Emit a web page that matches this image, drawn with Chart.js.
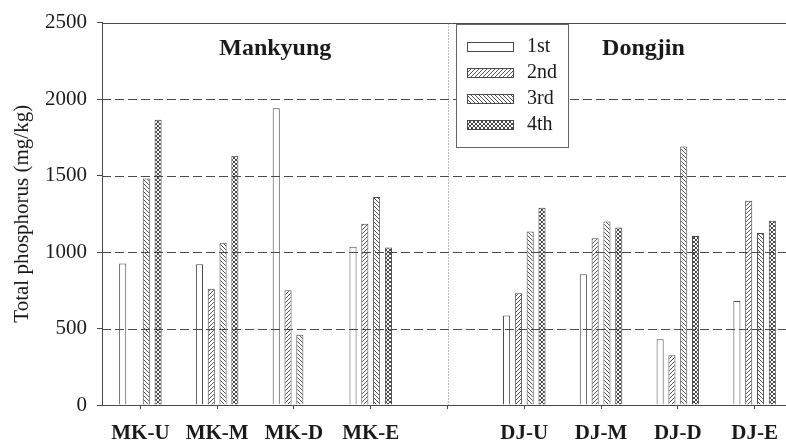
<!DOCTYPE html>
<html>
<head>
<meta charset="utf-8">
<script src="https://cdn.jsdelivr.net/npm/chart.js@4/dist/chart.umd.min.js"></script>
<style>
  html, body { margin: 0; padding: 0; background: #fff; overflow: hidden; width: 786px; height: 446px; }
  canvas { display: block; }
</style>
</head>
<body>
<canvas id="chart" width="800" height="446"></canvas>
<script>
// Sampling sites (the empty slot separates the two rivers)
const categories = ['MK-U', 'MK-M', 'MK-D', 'MK-E', '', 'DJ-U', 'DJ-M', 'DJ-D', 'DJ-E'];
const seriesLabels = ['1st', '2nd', '3rd', '4th'];

// Total phosphorus (mg/kg) per sampling round
const round1 = [925, 920, 1940, 1035, null, 585, 855, 430, 680];
const round2 = [null, 760, 750, 1185, null, 730, 1090, 325, 1335];
const round3 = [1480, 1060, 460, 1360, null, 1135, 1200, 1690, 1125];
const round4 = [1865, 1630, null, 1030, null, 1290, 1160, 1105, 1205];

const yTicks = [0, 500, 1000, 1500, 2000, 2500];
const regionTitles = ['Mankyung', 'Dongjin'];
const dividerCategory = 4;

const SERIF = '"Liberation Serif", "Times New Roman", serif';
const INK = '#1a1a1a';
const LINE = '#4a4a4a';

Chart.defaults.font.family = SERIF;

// Pixel-exact hatch tiles
function hatch(kind) {
  const p = 4;
  const c = document.createElement('canvas');
  c.width = p; c.height = p;
  const g = c.getContext('2d');
  const img = g.createImageData(p, p);
  for (let y = 0; y < p; y++) {
    for (let x = 0; x < p; x++) {
      let on = false;
      if (kind === 'fwd') on = (x + y) % p === p - 1;
      if (kind === 'back') on = ((x - y) % p + p) % p === 0;
      if (kind === 'cross') on = ((x + y) % p === p - 1) || (((x - y) % p + p) % p === 0);
      const i = (y * p + x) * 4;
      const v = on ? (kind === 'cross' ? 70 : 80) : 255;
      img.data[i] = v; img.data[i + 1] = v; img.data[i + 2] = v; img.data[i + 3] = 255;
    }
  }
  g.putImageData(img, 0, 0);
  return g.createPattern(c, 'repeat');
}

const fills = ['#ffffff', hatch('fwd'), hatch('back'), hatch('cross')];
const seriesData = [round1, round2, round3, round4];

// Dashed reference lines, top frame line, river divider, region titles and legend
const decorations = {
  id: 'decorations',
  afterDatasetsDraw(chart) {
    const { ctx, chartArea: a, scales: { x, y } } = chart;
    ctx.save();
    ctx.lineWidth = 1;
    ctx.strokeStyle = LINE;
    // horizontal dashed lines at inner ticks
    ctx.setLineDash([9, 4]);
    yTicks.slice(1, -1).forEach(v => {
      const py = Math.round(y.getPixelForValue(v)) + 0.5;
      ctx.beginPath(); ctx.moveTo(a.left, py); ctx.lineTo(a.right, py); ctx.stroke();
    });
    // solid line at the top value
    ctx.setLineDash([]);
    const top = Math.round(y.getPixelForValue(yTicks[yTicks.length - 1])) + 0.5;
    ctx.beginPath(); ctx.moveTo(a.left, top); ctx.lineTo(a.right + 10, top); ctx.stroke();
    // dotted divider between rivers
    const dx = Math.round(x.getPixelForValue(dividerCategory)) + 0.5;
    ctx.strokeStyle = '#777';
    ctx.setLineDash([1, 2]);
    ctx.beginPath(); ctx.moveTo(dx, top); ctx.lineTo(dx, a.bottom); ctx.stroke();
    ctx.setLineDash([]);

    // region titles
    ctx.fillStyle = INK;
    ctx.font = 'bold 24px ' + SERIF;
    ctx.textAlign = 'center';
    ctx.textBaseline = 'alphabetic';
    ctx.fillText(regionTitles[0], (a.left + dx) / 2, 55);
    ctx.fillText(regionTitles[1], (x.getPixelForValue(6) + x.getPixelForValue(7)) / 2 + 4, 55);

    // legend box
    const bx = 456.5, by = 24.5, bw = 112, bh = 123;
    ctx.fillStyle = '#fff';
    ctx.fillRect(bx, by, bw, bh);
    ctx.strokeStyle = '#666';
    ctx.strokeRect(bx, by, bw, bh);
    ctx.font = '20px ' + SERIF;
    ctx.textAlign = 'left';
    ctx.textBaseline = 'middle';
    chart.data.datasets.forEach((ds, i) => {
      const cy = 42 + i * 26;
      ctx.fillStyle = ds.backgroundColor;
      ctx.fillRect(467, cy, 47, 10);
      ctx.strokeStyle = LINE;
      ctx.strokeRect(467.5, cy + 0.5, 46, 9);
      ctx.fillStyle = INK;
      ctx.fillText(ds.label, 527, cy + 5);
    });
    ctx.restore();
  }
};

new Chart(document.getElementById('chart'), {
  type: 'bar',
  data: {
    labels: categories,
    datasets: seriesData.map((d, i) => ({
      label: seriesLabels[i],
      data: d,
      backgroundColor: fills[i],
      borderColor: LINE,
      borderWidth: 1,
      borderSkipped: 'start',
      categoryPercentage: 0.615,
      barPercentage: 0.6
    }))
  },
  options: {
    responsive: false,
    animation: false,
    devicePixelRatio: 1,
    layout: { padding: { top: 16, right: 7, left: 0, bottom: 0 } },
    plugins: { legend: { display: false }, tooltip: { enabled: false } },
    scales: {
      x: {
        grid: { offset: false, drawOnChartArea: false, drawTicks: true, tickLength: 4, color: LINE },
        border: { color: LINE },
        ticks: {
          autoSkip: false, maxRotation: 0, padding: 12, color: INK,
          font: { family: SERIF, size: 21, weight: 'bold' }
        },
        afterFit(s) { s.height = 41; }
      },
      y: {
        min: 0, max: 2500,
        afterBuildTicks(s) { s.ticks = yTicks.map(v => ({ value: v })); },
        grid: { drawOnChartArea: false, tickLength: 5, color: LINE },
        border: { color: LINE },
        ticks: {
          padding: 10, color: INK, font: { family: SERIF, size: 21 },
          callback: v => String(v)
        },
        title: {
          display: true, text: 'Total phosphorus (mg/kg)', color: INK,
          font: { family: SERIF, size: 21 }, padding: { top: 10, bottom: 0 }
        },
        afterFit(s) { s.width = 102; }
      }
    }
  },
  plugins: [decorations]
});
</script>
</body>
</html>
